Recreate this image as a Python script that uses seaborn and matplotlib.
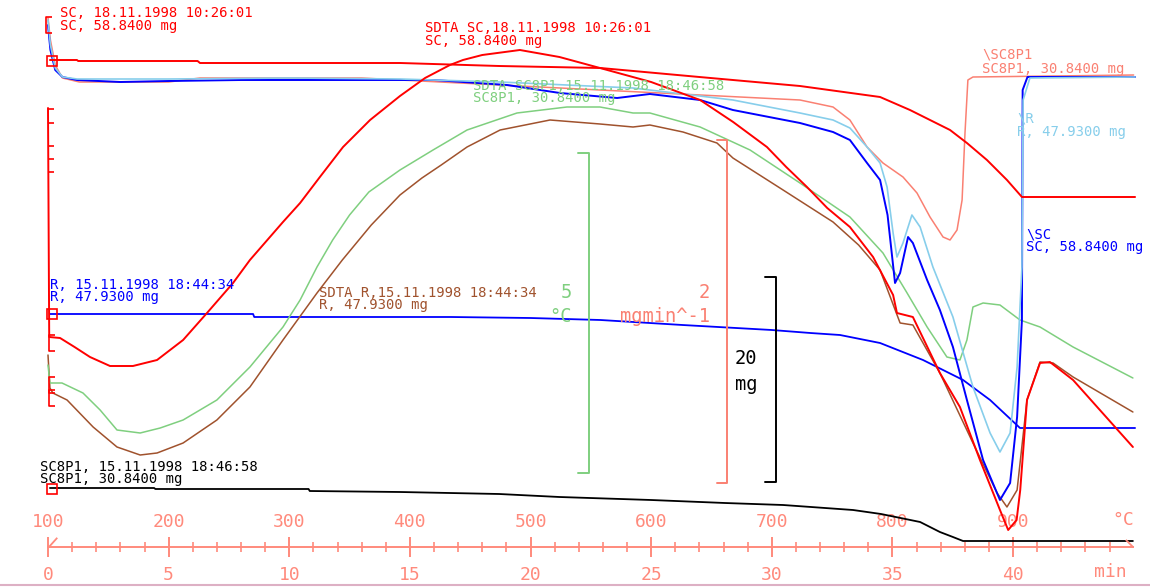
import numpy as np
import pandas as pd
import matplotlib
matplotlib.use("Agg")
import matplotlib.pyplot as plt
from matplotlib.path import Path
from matplotlib.ticker import FixedLocator
from matplotlib.markers import TICKRIGHT
import seaborn as sns

# ---------------- data ----------------
# time axis in minutes; furnace temperature = 100 + 20 * t
time_ticks = [0, 5, 10, 15, 20, 25, 30, 35, 40]
temp_ticks = [100, 200, 300, 400, 500, 600, 700, 800, 900]
minor_ticks = [m for m in range(1, 45) if m % 5 != 0]

# signals given as their plotted vertical position (0 = top of chart)
red_dta_t = [0.0, 0.05, 0.5, 1.1, 1.74, 2.57, 3.52, 4.52, 5.6, 6.59, 7.67, 8.37, 9.74, 10.45, 11.27,
             12.23, 13.35, 14.59, 15.63, 16.66, 17.2, 18.0, 19.56, 21.2, 22.88, 25.0, 27.03, 28.4,
             29.8, 30.6, 31.46, 32.3, 33.24, 34.2, 35.03, 35.19, 35.85, 36.97, 37.8, 38.63, 39.46,
             39.8, 40.15, 40.3, 40.58, 41.12, 41.53, 42.49, 44.97]
red_dta_y = [108, 337, 338, 347, 357, 366, 366, 360, 340, 313, 283, 260, 222, 203, 177,
             147, 120, 96, 78, 65, 60, 55, 50, 57, 68, 82, 100, 122,
             147, 167, 187, 208, 227, 257, 295, 313, 317, 373, 407, 460, 510,
             530, 520, 490, 400, 363, 362, 380, 447]

red_tga_t = [0.08, 1.2, 1.25, 6.2, 6.3, 14.6, 18.7, 22.9, 27.0, 31.17, 34.49, 35.73, 37.39, 38.09,
             38.92, 39.75, 40.37, 45.06]
red_tga_y = [60, 60, 61, 61, 63, 63, 66, 68, 77, 86, 97, 110, 130, 143, 160, 180, 197, 197]

blue_tga_t = [0.08, 8.5, 8.55, 16.7, 20.0, 22.9, 26.3, 30.0, 31.6, 32.83, 34.49, 36.27, 37.93, 39.05,
              40.29, 45.06]
blue_tga_y = [314, 314, 317, 317, 318, 320, 325, 330, 333, 335, 343, 360, 380, 400, 428, 428]

black_tga_t = [0.08, 4.4, 4.45, 10.8, 10.85, 14.6, 18.7, 21.2, 25.0, 28.06, 30.47, 33.37, 34.53, 36.15,
               36.97, 37.51, 37.93, 44.97]
black_tga_y = [488, 488, 489, 489, 491, 492, 494, 497, 500, 503, 505, 510, 514, 522, 532, 537, 541, 541]

green_dta_t = [0.0, 0.08, 0.58, 1.45, 2.16, 2.86, 3.82, 4.65, 5.6, 7.0, 8.37, 9.74, 10.45, 11.15, 11.8,
               12.5, 13.3, 14.59, 15.96, 17.37, 19.44, 21.51, 22.88, 24.25, 24.95, 27.03, 29.1, 31.17,
               33.24, 34.61, 35.61, 36.44, 37.26, 37.8, 38.09, 38.34, 38.76, 39.46, 40.29, 41.12,
               42.49, 44.97]
green_dta_y = [365, 383, 383, 393, 410, 430, 433, 428, 420, 400, 367, 327, 300, 267, 240,
               215, 192, 170, 150, 130, 113, 107, 107, 113, 113, 127, 150, 183,
               217, 253, 293, 327, 357, 360, 340, 307, 303, 305, 320, 327,
               347, 378]

brown_dta_t = [0.0, 0.08, 0.2, 0.79, 1.87, 2.86, 3.82, 4.52, 5.6, 7.0, 8.37, 9.74, 11.15, 12.2, 13.4,
               14.59, 15.5, 16.3, 17.37, 18.74, 20.81, 22.88, 24.25, 24.95, 26.32, 27.73, 28.39, 30.47,
               32.54, 33.6, 34.49, 35.32, 35.85, 36.97, 38.34, 39.34, 39.75, 40.17, 40.58, 41.12,
               41.66, 42.49, 44.97]
brown_dta_y = [355, 388, 393, 400, 427, 447, 455, 453, 443, 420, 387, 340, 293, 260, 225,
               195, 178, 165, 147, 130, 120, 124, 127, 125, 132, 143, 158, 190,
               222, 245, 270, 323, 325, 373, 443, 493, 507, 490, 400, 362,
               363, 377, 412]

blue_dtg_t = [0.0, 0.1, 0.3, 0.6, 1.2, 3.0, 5.0, 8.0, 12.0, 16.0, 19.03, 21.22, 23.59, 24.95, 27.03,
              28.39, 31.17, 32.54, 33.24, 33.95, 34.49, 34.8, 35.11, 35.32, 35.65, 35.85, 36.44, 36.97,
              37.51, 38.09, 38.76, 39.46, 39.88, 40.17, 40.37, 40.4, 40.6, 45.06]
blue_dtg_y = [25, 50, 70, 77, 80, 82, 81, 80, 80, 80, 85, 93, 98, 94, 100,
              110, 123, 132, 140, 163, 180, 215, 283, 273, 237, 243, 280, 310,
              347, 400, 460, 500, 483, 417, 320, 90, 77, 77]

lblue_dtg_t = [0.0, 0.1, 0.3, 0.6, 1.2, 5.0, 10.0, 14.59, 18.74, 24.25, 28.39, 31.17, 32.54, 33.24,
               33.95, 34.49, 34.78, 35.03, 35.19, 35.44, 35.81, 36.15, 36.68, 37.51, 38.34, 39.05,
               39.46, 39.88, 40.17, 40.37, 40.42, 40.7, 45.06]
lblue_dtg_y = [20, 45, 68, 77, 79, 79, 78, 79, 82, 88, 100, 113, 120, 128,
               147, 163, 187, 233, 257, 243, 215, 227, 267, 317, 387, 433,
               452, 433, 367, 267, 100, 78, 77]

salmon_dtg_t = [0.0, 0.1, 0.3, 0.6, 1.3, 5.0, 6.3, 13.0, 14.59, 18.74, 22.88, 27.03, 31.17, 32.54,
                33.24, 33.95, 34.61, 35.44, 36.02, 36.56, 37.1, 37.39, 37.68, 37.89, 38.01, 38.13,
                38.34, 45.0]
salmon_dtg_y = [18, 40, 65, 78, 82, 82, 78, 78, 80, 85, 90, 95, 100, 107,
                120, 147, 163, 177, 193, 217, 237, 240, 230, 200, 133, 80,
                77, 75]

# ---------------- style ----------------
RED = "#ff0000"
BLUE = "#0000ff"
LBLUE = "#87ceeb"
SALMON = "#fa8072"
GREEN = "#7fcf7f"
BROWN = "#a0522d"
BLACK = "#000000"
AXIS = "#ff8a7c"

sns.set_theme(style="white")
plt.rcParams["font.family"] = ["DejaVu Sans Mono", "DejaVu Sans"]

fig = plt.figure(figsize=(11.5, 5.87), dpi=100)
fig.patch.set_facecolor("white")
ax = fig.add_axes([0, 0, 1, 1])
ax.set_facecolor("white")

curves = [
    (black_tga_t, black_tga_y, BLACK, 1.3),
    (blue_tga_t, blue_tga_y, BLUE, 1.3),
    (brown_dta_t, brown_dta_y, BROWN, 1.1),
    (green_dta_t, green_dta_y, GREEN, 1.1),
    (salmon_dtg_t, salmon_dtg_y, SALMON, 1.1),
    (blue_dtg_t, blue_dtg_y, BLUE, 1.4),
    (lblue_dtg_t, lblue_dtg_y, LBLUE, 1.2),
    (red_tga_t, red_tga_y, RED, 1.4),
    (red_dta_t, red_dta_y, RED, 1.4),
]
for t, y, c, lw in curves:
    df = pd.DataFrame({"t": t, "y": y})
    sns.lineplot(data=df, x="t", y="y", ax=ax, color=c, lw=lw, sort=False,
                 estimator=None, legend=False)

# start markers of the curves
box_t = [0.15, 0.15, 0.15]
box_y = [61, 314, 489]
ax.plot(box_t, box_y, ls="none", marker="s", ms=7, mfc="none", mec=RED, mew=1.2)
bracket = Path([(0.35, 1), (-0.35, 1), (-0.35, -1), (0.35, -1)],
               [Path.MOVETO, Path.LINETO, Path.LINETO, Path.LINETO])
br_t = [0.05, 0.15, 0.15, 0.15]
br_y = [25, 343, 385, 398]
ax.plot(br_t, br_y, ls="none", marker=bracket, ms=12, mfc="none", mec=RED, mew=1.2)
tick_y = [109, 123, 146, 159, 172]
ax.plot([0.0] * len(tick_y), tick_y, ls="none", marker=TICKRIGHT, ms=4, mec=RED, mew=1.2)

# scale bars
scale_bars = [
    (22.43, 21.97, 153, 473, GREEN),
    (28.15, 27.73, 140, 483, SALMON),
    (30.18, 29.72, 277, 482, BLACK),
]
for xb, xt, y0, y1, c in scale_bars:
    ax.plot([xt, xb, xb, xt], [y0, y0, y1, y1], color=c, lw=1.4)

scale_labels = [
    ("5", 21.72, 292, GREEN, "right"),
    ("°C", 21.72, 317, GREEN, "right"),
    ("2", 27.44, 292, SALMON, "right"),
    ("mgmin^-1", 27.44, 317, SALMON, "right"),
    ("20", 28.48, 358, BLACK, "left"),
    ("mg", 28.48, 385, BLACK, "left"),
]
for s, x, y, c, ha in scale_labels:
    ax.text(x, y, s, color=c, ha=ha, va="center", fontsize=13.5)

# curve annotations
labels = [
    ("SC, 18.11.1998 10:26:01", 0.5, 13, RED),
    ("SC, 58.8400 mg", 0.5, 26, RED),
    ("SDTA SC,18.11.1998 10:26:01", 15.63, 28, RED),
    ("SC, 58.8400 mg", 15.63, 41, RED),
    ("SDTA SC8P1,15.11.1998 18:46:58", 17.62, 86, GREEN),
    ("SC8P1, 30.8400 mg", 17.62, 98, GREEN),
    ("\\SC8P1", 38.72, 55, SALMON),
    ("SC8P1, 30.8400 mg", 38.72, 68.5, SALMON),
    ("\\R", 40.17, 118, LBLUE),
    ("R, 47.9300 mg", 40.17, 132, LBLUE),
    ("\\SC", 40.54, 234, BLUE),
    ("SC, 58.8400 mg", 40.54, 247, BLUE),
    ("R, 15.11.1998 18:44:34", 0.08, 285, BLUE),
    ("R, 47.9300 mg", 0.08, 297, BLUE),
    ("SDTA R,15.11.1998 18:44:34", 11.23, 293, BROWN),
    ("R, 47.9300 mg", 11.23, 305, BROWN),
    ("SC8P1, 15.11.1998 18:46:58", -0.33, 467, BLACK),
    ("SC8P1, 30.8400 mg", -0.33, 479, BLACK),
]
for s, x, y, c in labels:
    ax.text(x, y, s, color=c, ha="left", va="center", fontsize=10)

# ---------------- axes ----------------
ax.set_xlim(-48 / 24.125, 1102 / 24.125)
ax.set_ylim(587, 0)
ax.set_yticks([])
ax.set_xlabel("")
ax.set_ylabel("")
for side in ["left", "right", "top"]:
    ax.spines[side].set_visible(False)
ax.spines["bottom"].set_position(("data", 547))
ax.spines["bottom"].set_bounds(0, 44.97)
ax.spines["bottom"].set_color(AXIS)
ax.spines["bottom"].set_linewidth(1.4)
ax.set_xticks(time_ticks)
ax.set_xticklabels([str(v) for v in time_ticks])
ax.xaxis.set_minor_locator(FixedLocator(minor_ticks))
ax.tick_params(axis="x", which="major", bottom=True, labelbottom=True, direction="inout",
               length=15, width=1.4, color=AXIS, labelcolor=AXIS, labelsize=13, pad=6)
ax.tick_params(axis="x", which="minor", bottom=True, direction="inout",
               length=6.5, width=1.2, color=AXIS)

# axis end decorations
ax.plot([0], [547], ls="none", marker=Path([(0, 0), (0.9, 1)]), ms=14, mec=AXIS, mew=1.3)
ax.plot([44.97], [547], ls="none", marker=Path([(0, 0), (-1, 1)]), ms=11, mec=AXIS, mew=1.3)

secax = ax.secondary_xaxis((587 - 547) / 587,
                           functions=(lambda t: 100 + 20 * t, lambda T: (T - 100) / 20))
secax.set_alignment("top")
secax.set_xticks(temp_ticks)
secax.set_xticklabels([str(v) for v in temp_ticks])
secax.tick_params(axis="x", length=0, labelcolor=AXIS, labelsize=13, pad=11.5,
                  top=True, labeltop=True, bottom=False, labelbottom=False)
for s in secax.spines.values():
    s.set_visible(False)

ax.text(44.56, 520, "°C", color=AXIS, ha="center", va="center", fontsize=13)
ax.text(44.02, 572, "min", color=AXIS, ha="center", va="center", fontsize=13)
ax.axhline(585, color="#ddb0c4", lw=1.5)

fig.savefig("out.png", dpi=100, facecolor="white")
